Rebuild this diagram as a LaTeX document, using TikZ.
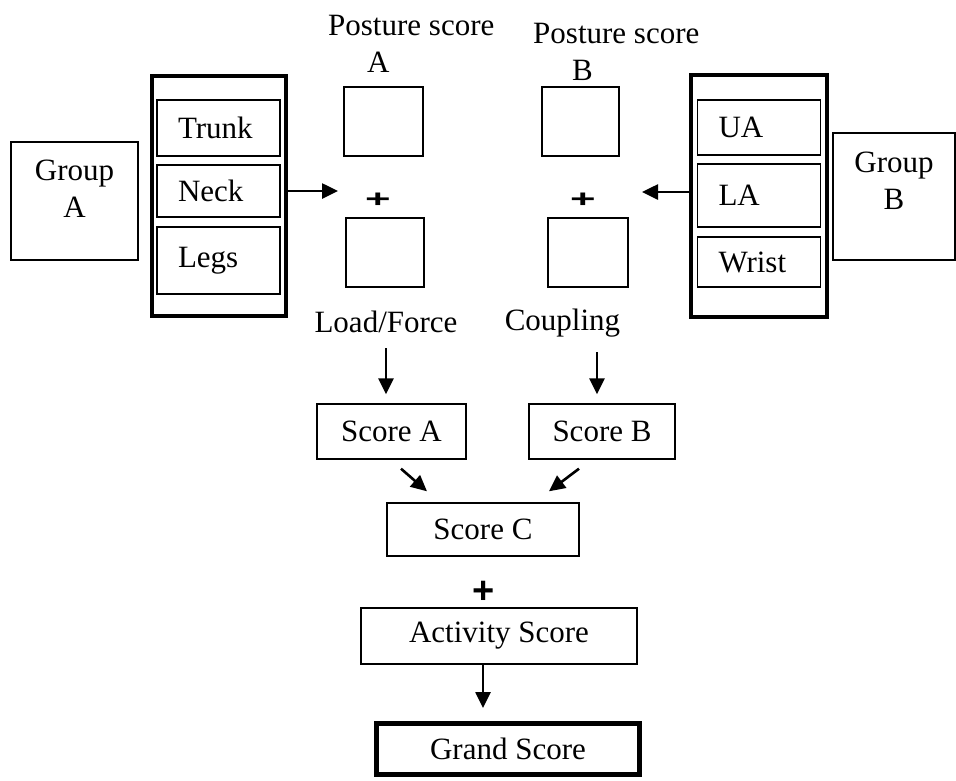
\documentclass[tikz,border=0pt]{standalone}
\usepackage{fontspec}
\setmainfont{Liberation Serif}
\setsansfont{Liberation Sans}
\usetikzlibrary{arrows.meta,positioning,calc}
\newcommand{\rebatext}{\fontsize{31}{37}\selectfont}
\tikzset{
  rtxt/.style={inner sep=0pt, font=\rebatext, align=center},
  rblk/.style={rectangle, draw, line width=1.4pt, inner sep=0pt, font=\rebatext, align=center},
  pblk/.style={rectangle, draw, line width=1.2pt, inner xsep=21pt, inner ysep=0pt,
               text width=81pt, align=left, font=\rebatext},
  gblk/.style={rectangle, draw, line width=4pt, inner sep=0pt},
  rplus/.style={inner sep=0pt, font=\sffamily\bfseries\fontsize{38}{38}\selectfont},
  rarr/.style={-{Triangle[length=16pt,width=15pt]}, line width=2.6pt},
}
\begin{document}
\begin{tikzpicture}[x=1pt,y=-1pt]
        \useasboundingbox (0,0) rectangle (956,780);
        \fill[white] (0,0) rectangle (956,780);
        % group A side
        \node[rblk,minimum width=127pt,minimum height=118pt](grpA) at (74.5,201){};
        \node[rtxt,below=18pt of grpA.north](grpAt){Group\\A};
        \node[gblk,minimum width=134pt,minimum height=240pt](outA) at (219,196){};
        \node[pblk,minimum height=56pt](trunk) at (218.5,128){Trunk};
        \node[pblk,minimum height=52pt](neck) at (218.5,191){Neck};
        \node[pblk,minimum height=67pt](legs) at (218.5,260.5){Legs};
        % group B side
        \node[rblk,minimum width=122pt,minimum height=127pt](grpB) at (894,196.5){};
        \node[rtxt,below=19pt of grpB.north](grpBt){Group\\B};
        \node[gblk,minimum width=136pt,minimum height=242pt](outB) at (759,196){};
        \node[pblk,minimum height=55pt](ua) at (759,127.5){UA};
        \node[pblk,minimum height=63pt](la) at (759,195.5){LA};
        \node[pblk,minimum height=50pt](wrist) at (759,262){Wrist};
        % posture scores
        \node[rtxt,anchor=north west,align=left](psA) at (328,15){Posture score\\\hspace*{39pt}A};
        \node[rtxt,anchor=north west,align=left](psB) at (533,23){Posture score\\\hspace*{39pt}B};
        \node[rblk,minimum width=79pt,minimum height=69pt](pA1) at (383.5,121.5){};
        \node[rplus,xscale=1.15,yscale=0.65,transform shape](plusA) at (378,200){+};
        \node[rblk,minimum width=78pt,minimum height=69pt](pA2) at (385,252.5){};
        \node[rblk,minimum width=77pt,minimum height=69pt](pB1) at (580.5,121.5){};
        \node[rplus,xscale=1.15,yscale=0.65,transform shape](plusB) at (583,200){+};
        \node[rblk,minimum width=80pt,minimum height=69pt](pB2) at (588,252.5){};
        \node[rtxt](load) at (386,322){Load/Force};
        \node[rtxt](coup) at (562.5,323){Coupling};
        \coordinate (inA) at (338,191);
        \coordinate (inB) at (642,192);
        % scores
        \node[rblk,minimum width=149pt,minimum height=55pt](scoreA) at (391.5,431.5){Score A};
        \node[rblk,minimum width=146pt,minimum height=55pt](scoreB) at (602,431.5){Score B};
        \node[rblk,minimum width=192pt,minimum height=53pt](scoreC) at (483,529.5){Score C};
        \node[rplus](plusC) at (484,592){+};
        \node[rblk,minimum width=276pt,minimum height=56pt](act) at (499,636){Activity Score};
        \node[rblk,line width=5pt,minimum width=263pt,minimum height=51pt](grand) at (508,749){Grand Score};
        % connectors
        \draw[rarr](outA.east |- inA)--(inA);
        \draw[rarr](outB.west |- inB)--(inB);
        \draw[rarr]($(load.south)+(0,15)$)--($(load.south |- scoreA.north)+(0,-9)$);
        \draw[rarr]($(scoreB.north |- coup.south)+(-5,15)$)--($(scoreB.north)+(-5,-9)$);
        \draw[rarr]($(scoreA.south)+(9.5,9)$)--($(scoreC.north)+(-56,-11)$);
        \draw[rarr]($(scoreB.south)+(-23,9)$)--($(scoreC.north)+(66,-11)$);
        \draw[rarr](act.south -| scoreC.south)--($(grand.north -| scoreC.south)+(0,-13)$);
    \end{tikzpicture}
\end{document}
